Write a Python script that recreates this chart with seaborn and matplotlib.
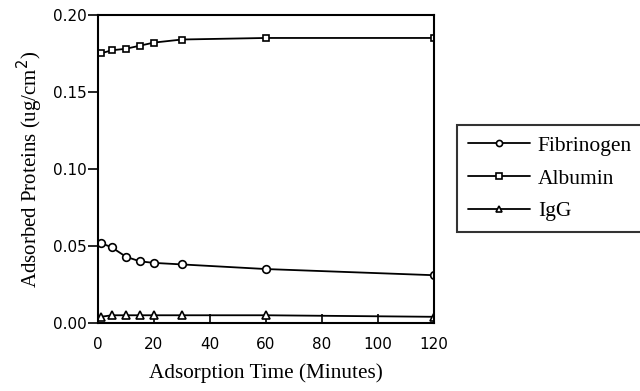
import matplotlib
matplotlib.use("Agg")
import matplotlib.pyplot as plt
import seaborn as sns
import pandas as pd

time_min = [1, 5, 10, 15, 20, 30, 60, 120]
fibrinogen = [0.052, 0.049, 0.043, 0.040, 0.039, 0.038, 0.035, 0.031]
albumin = [0.175, 0.177, 0.178, 0.180, 0.182, 0.184, 0.185, 0.185]
igg = [0.004, 0.005, 0.005, 0.005, 0.005, 0.005, 0.005, 0.004]
series_names = ["Fibrinogen", "Albumin", "IgG"]
x_ticks = [0, 20, 40, 60, 80, 100, 120]
y_ticks = [0.00, 0.05, 0.10, 0.15, 0.20]

sns.set_theme(style="white")
plt.rcParams["font.family"] = ["DejaVu Sans"]
plt.rcParams["text.color"] = "black"
plt.rcParams["axes.labelcolor"] = "black"
plt.rcParams["legend.labelcolor"] = "black"

df = pd.DataFrame({
    "time": time_min * 3,
    "value": fibrinogen + albumin + igg,
    "protein": [n for n in series_names for _ in time_min],
})

fig = plt.figure(figsize=(6.4, 3.91), dpi=100)
ax = fig.add_axes([0.153, 0.174, 0.525, 0.788])

markers = {"Fibrinogen": "o", "Albumin": "s", "IgG": "^"}
for name in series_names:
    sub = df[df["protein"] == name]
    sns.lineplot(data=sub, x="time", y="value", ax=ax, color="black",
                 marker=markers[name], markersize=5.5 if name != "Albumin" else 5,
                 markerfacecolor="white", markeredgecolor="black",
                 markeredgewidth=1.2, linewidth=1.3, label=name)

ax.set_xlim(0, 120)
ax.set_ylim(0, 0.20)
ax.set_xticks(x_ticks)
ax.set_yticks(y_ticks)
ax.set_yticklabels([f"{v:.2f}" for v in y_ticks])
for s in ax.spines.values():
    s.set_color("black")
    s.set_linewidth(1.5)
ax.tick_params(axis="x", direction="in", length=6.5, width=1.2, color="black",
               labelsize=11, pad=10, bottom=True, labelcolor="black")
ax.tick_params(axis="y", direction="out", length=7, width=1.2, color="black",
               labelsize=11, pad=1, left=True, labelcolor="black")

serif = ["Liberation Serif", "DejaVu Serif"]
ax.set_xlabel("Adsorption Time (Minutes)", family=serif, fontsize=15.3, labelpad=8, color="black")
ax.set_ylabel("Adsorbed Proteins (ug/cm$^2$)", family=serif, fontsize=15, labelpad=6, color="black")

leg = ax.legend(loc="upper left", bbox_to_anchor=(0.714, 0.68), bbox_transform=fig.transFigure,
                frameon=True, fancybox=False, edgecolor="black",
                prop={"family": serif, "size": 15.5},
                handlelength=2.9, handletextpad=0.35, borderpad=0.5, labelspacing=0.58,
                borderaxespad=0, markerscale=0.8)
leg.get_frame().set_linewidth(1.5)
for t in leg.get_texts():
    t.set_color("black")

fig.savefig("out.png", dpi=100)
